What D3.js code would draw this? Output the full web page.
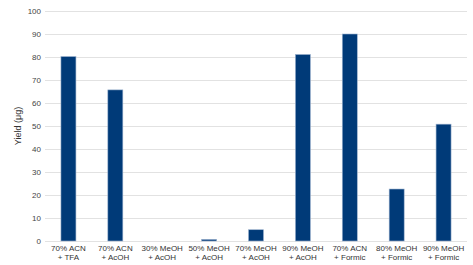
<!DOCTYPE html>
<html>
<head>
<meta charset="utf-8">
<script src="https://cdn.jsdelivr.net/npm/d3@7"></script>
<style>
  body { margin: 0; background: #fff; }
  svg { display: block; font-family: "Liberation Sans", Arial, sans-serif; }
</style>
</head>
<body>
<svg id="chart"></svg>
<script>
// data
const lines1 = ["70% ACN", "70% ACN", "30% MeOH", "50% MeOH", "70% MeOH", "90% MeOH", "70% ACN", "80% MeOH", "90% MeOH"];
const lines2 = ["+ TFA", "+ AcOH", "+ AcOH", "+ AcOH", "+ AcOH", "+ AcOH", "+ Formic", "+ Formic", "+ Formic"];
const yields = [80.2, 65.7, 0, 0.7, 4.9, 81.1, 90, 22.6, 50.8];
const yTicks = [0, 10, 20, 30, 40, 50, 60, 70, 80, 90, 100];

const width = 473, height = 265;
const margin = { top: 11, right: 6, bottom: 24, left: 45 };

const svg = d3.select("#chart").attr("width", width).attr("height", height);

const x = d3.scaleBand()
  .domain(d3.range(yields.length))
  .range([margin.left, width - margin.right])
  .paddingInner(0.68)
  .paddingOuter(0.34);

const y = d3.scaleLinear().domain([0, 100]).range([height - margin.bottom, margin.top]);

// gridlines
svg.append("g")
  .selectAll("line")
  .data(yTicks)
  .join("line")
  .attr("x1", margin.left)
  .attr("x2", width - margin.right)
  .attr("y1", d => Math.round(y(d)) + 0.5)
  .attr("y2", d => Math.round(y(d)) + 0.5)
  .attr("stroke", "#e2e2e2")
  .attr("stroke-width", 1);

// y tick labels
svg.append("g")
  .selectAll("text")
  .data(yTicks)
  .join("text")
  .attr("x", margin.left - 4)
  .attr("y", d => y(d) + 3)
  .attr("text-anchor", "end")
  .style("font-size", "8px")
  .style("fill", "#444")
  .text(d => d);

// bars
svg.append("g")
  .selectAll("rect")
  .data(yields)
  .join("rect")
  .attr("x", (d, i) => x(i))
  .attr("width", x.bandwidth())
  .attr("y", d => y(d))
  .attr("height", d => y(0) - y(d))
  .attr("fill", "#003a78")
  .attr("stroke", d => d > 0 ? "#9db3cf" : "none")
  .attr("stroke-width", 0.6);

// category labels
const cats = svg.append("g")
  .selectAll("text")
  .data(lines1)
  .join("text")
  .attr("text-anchor", "middle")
  .style("font-size", "8px")
  .style("fill", "#333");
cats.append("tspan")
  .attr("x", (d, i) => x(i) + x.bandwidth() / 2)
  .attr("y", height - margin.bottom + 10)
  .text(d => d);
cats.append("tspan")
  .attr("x", (d, i) => x(i) + x.bandwidth() / 2)
  .attr("y", height - margin.bottom + 19)
  .text((d, i) => lines2[i]);

// y axis title
svg.append("text")
  .attr("transform", "translate(21," + (margin.top + (height - margin.bottom - margin.top) / 2) + ") rotate(-90)")
  .attr("text-anchor", "middle")
  .style("font-size", "9px")
  .style("fill", "#333")
  .text("Yield (μg)");
</script>
</body>
</html>
